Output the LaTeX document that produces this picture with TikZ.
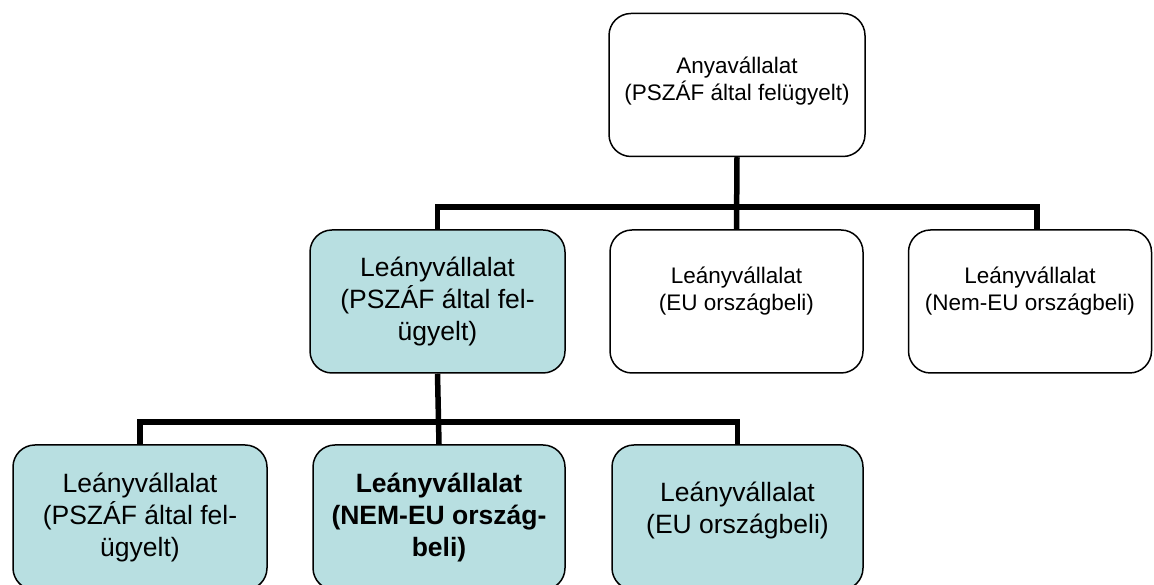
\documentclass[tikz,border=0pt]{standalone}
\usepackage{fontspec}
\setmainfont{Liberation Sans}
\definecolor{subfill}{RGB}{184,223,225}
\begin{document}
\begin{tikzpicture}[x=1pt,y=1pt,
    box/.style={draw, line width=1.5pt, rounded corners=22pt, align=center,
      inner sep=0pt, minimum height=143pt},
    supervised/.style={box, fill=subfill},
    smalltext/.style={font=\fontsize{22.5}{27}\selectfont},
    bigtext/.style={font=\fontsize{26.5}{32}\selectfont},
    conn/.style={line width=5.5pt}]
  \useasboundingbox (0,0) rectangle (1154,585);

  % parent
  \node[box, smalltext, minimum width=256pt, text depth=12pt] (parent) at (737,500)
    {Anyavállalat\\(PSZÁF által felügyelt)};

  % first level
  \node[supervised, bigtext, minimum width=255pt] (sub1) at (437.5,283.5)
    {Leányvállalat\\(PSZÁF által fel-\\ügyelt)};
  \node[box, smalltext, minimum width=253pt, text depth=25pt] (sub2) at (736.5,283.5)
    {Leányvállalat\\(EU országbeli)};
  \node[box, smalltext, minimum width=243pt, text depth=25pt] (sub3) at (1030,283.5)
    {Leányvállalat\\(Nem-EU országbeli)};

  % second level
  \node[supervised, bigtext, minimum width=254pt, minimum height=145pt] (subsub1) at (140,67.5)
    {Leányvállalat\\(PSZÁF által fel-\\ügyelt)};
  \node[supervised, bigtext, minimum width=252pt, minimum height=145pt] (subsub2) at (439,67.5)
    {\textbf{Leányvállalat}\\\textbf{(NEM-EU ország-}\\\textbf{beli)}};
  \node[supervised, bigtext, minimum width=251pt, minimum height=145pt, text depth=20pt] (subsub3) at (737.5,67.5)
    {Leányvállalat\\(EU országbeli)};

  % connectors
  \coordinate (bus1) at (737,378);
  \coordinate (bus2) at (439,163);
  \draw[conn] (parent.south) -- (sub2.north);
  \draw[conn] (sub1.north) |- (bus1) -| ([xshift=7pt]sub3.north);
  \draw[conn] (sub1.south) -- (subsub2.north);
  \draw[conn] (subsub1.north) |- (bus2) -| (subsub3.north);
\end{tikzpicture}
\end{document}
